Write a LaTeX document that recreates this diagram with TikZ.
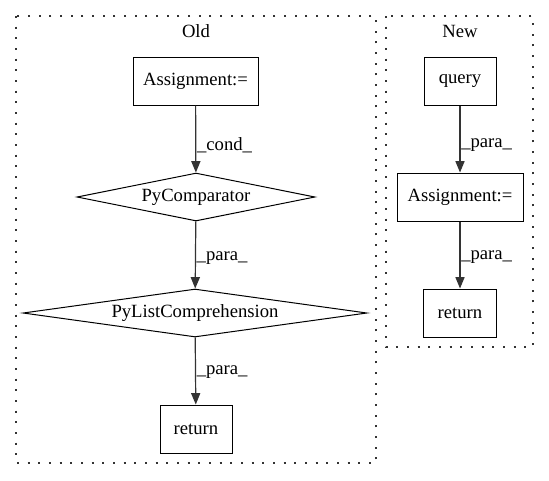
\documentclass[tikz,border=0pt]{standalone}
\usepackage{fontspec}
\setmainfont{Liberation Serif}
\usetikzlibrary{arrows.meta, shapes.geometric}

\begin{document}
\begin{tikzpicture}[x=0.75pt, y=-0.75pt, line width=0.75pt,
		every node/.style={font=\fontsize{14pt}{16pt}\selectfont},
		box/.style={draw, inner sep=0pt, minimum height=36pt},
		cmp/.style={draw, diamond, inner sep=0pt, minimum height=36pt},
		cluster/.style={draw=black!80, dash pattern=on 1.4pt off 6.6pt, line width=1.2pt},
		flow/.style={-{Triangle[length=8.5pt, width=6.8pt]}, draw=black!80, line width=0.9pt},
		lbl/.style={right, inner sep=0.5pt}
	]

	\useasboundingbox (0,0) rectangle (549,480);

	% clusters
	\draw[cluster] (16,16) rectangle (376,463);
	\draw[cluster] (386,16) rectangle (533,347);
	\node (old) at (196,31) {Old};
	\node (new) at (460,31) {New};

	% old
	\node[box, minimum width=93.75pt] (oassign) at (195.5,81) {Assignment:=};
	\node[cmp, minimum width=178.5pt, aspect=4.96] (ocomp) at (196,197) {PyComparator};
	\node[cmp, minimum width=258pt, aspect=7.17] (olist) at (195,313) {PyListComprehension};
	\node[box, minimum width=54pt] (oret) at (196,429) {return};

	\draw[flow] (oassign) -- node[lbl, pos=0.59] {\_cond\_} (ocomp);
	\draw[flow] (ocomp) -- node[lbl, pos=0.54] {\_para\_} (olist);
	\draw[flow] (olist) -- node[lbl, pos=0.51] {\_para\_} (oret);

	% new
	\node[box, minimum width=54pt] (query) at (460,81) {query};
	\node[box, minimum width=94.5pt] (nassign) at (460,197) {Assignment:=};
	\node[box, minimum width=54.75pt] (nret) at (460,313) {return};

	\draw[flow] (query) -- node[lbl, pos=0.59] {\_para\_} (nassign);
	\draw[flow] (nassign) -- node[lbl, pos=0.53] {\_para\_} (nret);

\end{tikzpicture}
\end{document}
